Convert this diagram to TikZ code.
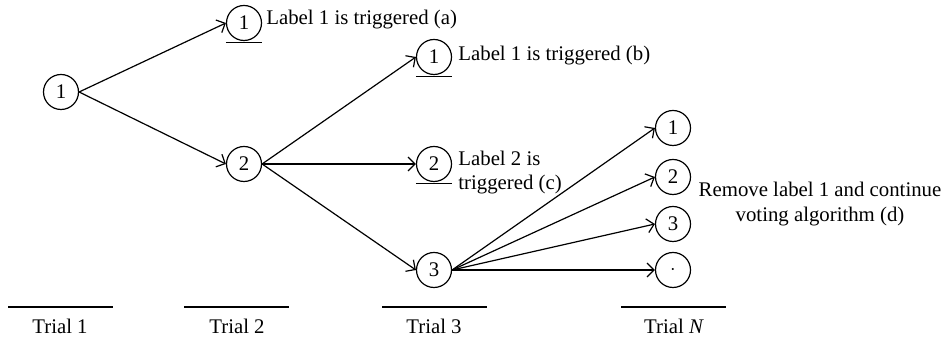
\documentclass[tikz,border=0pt]{standalone}
\usepackage{fontspec}
\setmainfont{Liberation Serif}
\usetikzlibrary{arrows.meta}
\begin{document}
\begin{tikzpicture}[x=0.5pt,y=-0.5pt,
  every node/.style={font=\fontsize{10.4}{12.2}\selectfont},
  state/.style={draw, circle, minimum size=17.5pt, inner sep=0pt, line width=0.6pt},
  link/.style={-{Straight Barb[length=3.5pt,width=7pt]}, line width=0.6pt},
  bar/.style={line width=0.6pt},
  note/.style={inner sep=0pt},
]
\useasboundingbox (0,0) rectangle (946,340);

% states of the voting process
\node[state] (n1) at (61,92)  {1};
\node[state] (a1) at (244,23) {1};
\node[state] (b2) at (244,164) {2};
\node[state] (c1) at (434,57) {1};
\node[state] (c2) at (434,164) {2};
\node[state] (c3) at (434,270) {3};
\node[state] (d1) at (673,128) {1};
\node[state] (d2) at (673,177) {2};
\node[state] (d3) at (673,224) {3};
\node[state] (d4) at (673,270) {$\cdot$};

% transitions
\draw[link] (n1.east) -- (a1.west);
\draw[link] (n1.east) -- (b2.west);
\draw[link] (b2.east) -- (c1.west);
\draw[link] (b2.east) -- (c2.west);
\draw[link] (b2.east) -- (c3.west);
\foreach \t in {d1,d2,d3,d4} \draw[link] (c3.east) -- (\t.west);

% terminal states are underlined
\foreach \s in {a1,c1,c2}
  \draw[bar] ([yshift=-0.6pt]\s.south -| \s.west) -- ([yshift=-0.6pt]\s.south -| \s.east);

% outcome notes (base anchor of a multi-line note is its last line)
\node[note, anchor=base west] (ta) at (266,25) {Label 1 is triggered (a)};
\node[note, anchor=base west] (tb) at (458,61) {Label 1 is triggered (b)};
\node[note, anchor=base west, align=left] (tc) at (458,190) {Label 2 is\\triggered (c)};
\node[note, anchor=base, align=center, font=\fontsize{10.4}{12.5}\selectfont] (td) at (820,222)
  {Remove label 1 and continue\\voting algorithm (d)};

% trial axis
\draw[bar] (8,307) -- (113,307);
\draw[bar] (184,307) -- (289,307);
\draw[bar] (382,307) -- (487,307);
\draw[bar] (621,307) -- (726,307);
\node[note, anchor=base] (t1) at (60,334)  {Trial 1};
\node[note, anchor=base] (t2) at (237,334) {Trial 2};
\node[note, anchor=base] (t3) at (434,334) {Trial 3};
\node[note, anchor=base] (tN) at (674,334) {Trial \textit{N}};
\end{tikzpicture}
\end{document}
